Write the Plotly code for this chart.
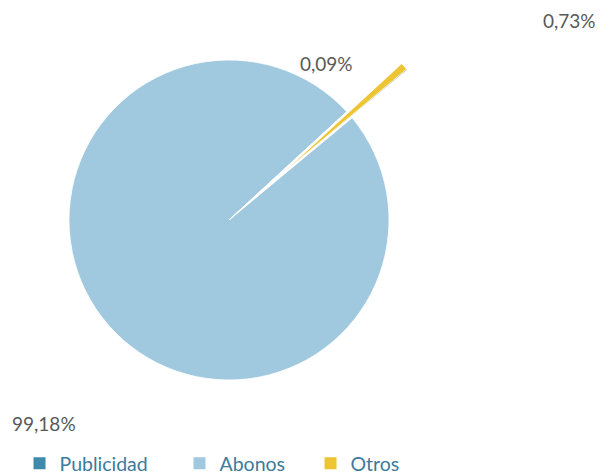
import plotly.graph_objects as go

labels = ["Publicidad", "Abonos", "Otros"]
values = [0.09, 99.18, 0.73]
colors = ["#3E8AAD", "#A0C8DE", "#EDC431"]
exploded = [True, False, True]

# percentage label positions (paper coords)
label_x = [0.5282, 0.0589, 0.932]
label_y = [0.8842, 0.1263, 0.9747]
# legend entry positions (paper coords)
legend_x = [0.0191, 0.2844, 0.5017]

TRANSP = "rgba(0,0,0,0)"
main_colors = ["white" if e else c for c, e in zip(colors, exploded)]
expl_colors = [c if e else TRANSP for c, e in zip(colors, exploded)]
expl_lines = ["white" if e else TRANSP for e in exploded]

fig = go.Figure()
# legend sources (tiny, invisible pies), one legend per label
legend_names = ["legend", "legend2", "legend3"]
for lab, val, col, lg in zip(labels, values, colors, legend_names):
    fig.add_trace(go.Pie(
        labels=[lab], values=[val], sort=False, marker=dict(colors=[col]),
        textinfo="none", hoverinfo="skip", legend=lg,
        domain=dict(x=[0, 0.0005], y=[0, 0.0005]),
    ))
# main pie: exploded slices leave a gap
fig.add_trace(go.Pie(
    labels=labels, values=values, sort=False, direction="clockwise",
    rotation=50, showlegend=False,
    marker=dict(colors=main_colors, line=dict(color="white", width=0.8)),
    textinfo="none", hoverinfo="label+percent",
    domain=dict(x=[0.10116, 0.63184], y=[0.21684, 0.89053]),
))
# exploded slices, drawn from their displaced apex
fig.add_trace(go.Pie(
    labels=labels, values=values, sort=False, direction="clockwise",
    rotation=50, showlegend=False,
    marker=dict(colors=expl_colors, line=dict(color=expl_lines, width=0.6)),
    textinfo="none", hoverinfo="label+percent",
    domain=dict(x=[0.19237, 0.72305], y=[0.31789, 0.99158]),
))

for v, x, y in zip(values, label_x, label_y):
    fig.add_annotation(
        x=x, y=y, xref="paper", yref="paper", showarrow=False,
        text=f"{v:.2f}".replace(".", ",") + "%",
        font=dict(family="Lato, Open Sans, sans-serif", size=19, color="#595959"),
        xanchor="center", yanchor="middle",
    )

legend_font = dict(family="Lato, Open Sans, sans-serif", size=19.5, color="#3C7B9C")
layout_legends = {}
for lg, lx in zip(legend_names, legend_x):
    layout_legends[lg] = dict(
        orientation="h", x=lx, y=0.0, xanchor="left", yanchor="bottom",
        font=legend_font, bgcolor="rgba(0,0,0,0)",
    )

fig.update_layout(
    width=603, height=475,
    margin=dict(l=0, r=0, t=0, b=0, autoexpand=False),
    paper_bgcolor="white", plot_bgcolor="white",
    showlegend=True,
    **layout_legends,
)

fig.write_html("out.html")
